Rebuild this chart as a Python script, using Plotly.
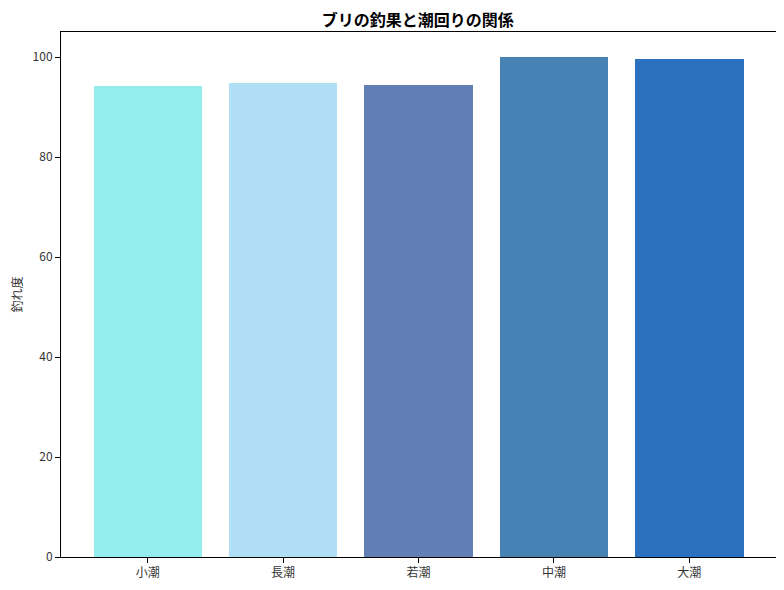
import plotly.graph_objects as go

tides = ["小潮", "長潮", "若潮", "中潮", "大潮"]
catch_score = [94.2, 94.8, 94.4, 100.0, 99.6]
bar_colors = ["#92EDEC", "#B0DEF5", "#617FB4", "#4682B4", "#2C70C0"]

font_jp = "Noto Sans CJK JP"

fig = go.Figure()
fig.add_trace(go.Bar(
    x=list(range(len(tides))),
    y=catch_score,
    width=0.8,
    marker=dict(color=bar_colors, line=dict(width=0)),
))

# page has an 8px body margin, so the figure is sized a bit smaller
fig.update_layout(
    width=776, height=582,
    margin=dict(l=53, r=8, t=24, b=33),
    plot_bgcolor="white", paper_bgcolor="white",
    font=dict(family=font_jp, size=12, color="#333333"),
    title=dict(text="<b>ブリの釣果と潮回りの関係</b>", x=0.528, xanchor="center",
               y=0.979, yanchor="middle",
               font=dict(family=font_jp, size=16, color="black")),
    showlegend=False,
    bargap=0,
)
fig.update_xaxes(
    range=[-0.64, 4.64],
    tickmode="array", tickvals=list(range(len(tides))), ticktext=tides,
    showgrid=False, zeroline=False, automargin=False,
    showline=True, linecolor="black", linewidth=1, mirror=True,
    ticks="outside", ticklen=5, tickcolor="black",
)
fig.update_yaxes(
    range=[0, 105],
    tickvals=[0, 20, 40, 60, 80, 100],
    showgrid=False, zeroline=False, automargin=False,
    showline=True, linecolor="black", linewidth=1, mirror=True,
    ticks="outside", ticklen=5, tickcolor="black",
    title=dict(text="釣れ度", standoff=9, font=dict(size=12)),
)

fig.write_html("out.html")
